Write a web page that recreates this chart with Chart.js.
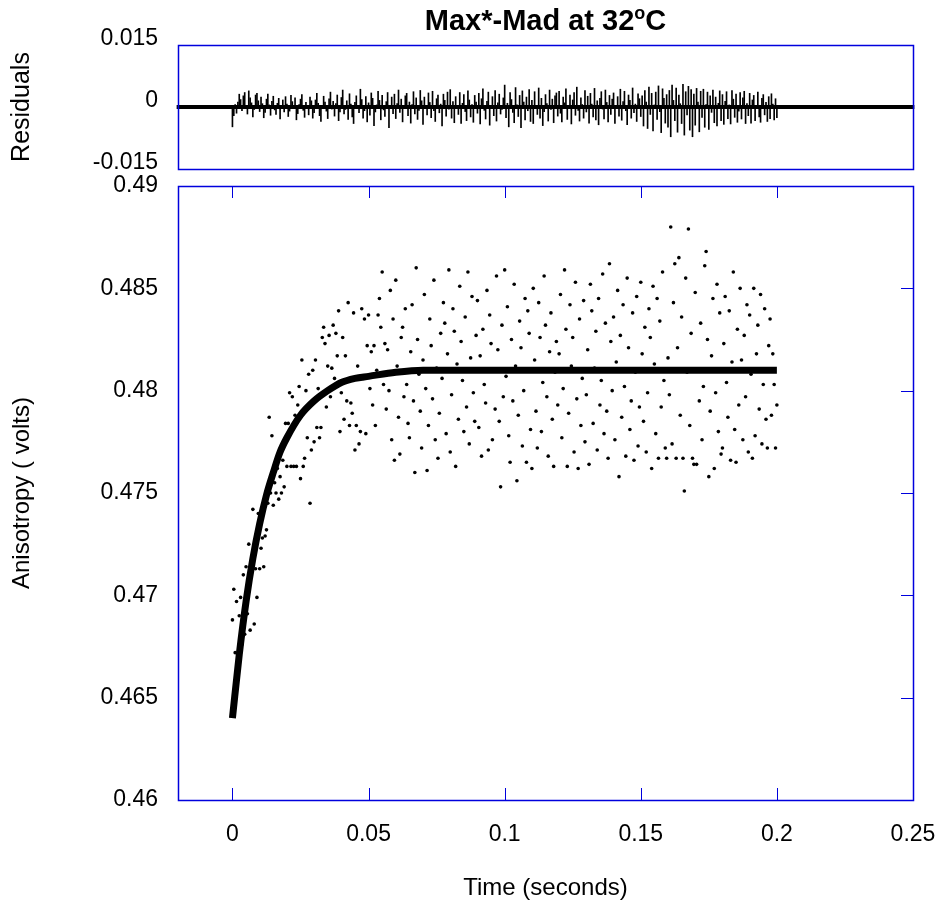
<!DOCTYPE html>
<html>
<head>
<meta charset="utf-8">
<script src="https://cdn.jsdelivr.net/npm/chart.js@4.4.1/dist/chart.umd.min.js"></script>
<style>
  html, body { margin: 0; padding: 0; background: #fff; }
  #wrap { position: relative; width: 940px; height: 909px; }
  canvas { position: absolute; left: 0; top: 0; }
</style>
</head>
<body>
<div id="wrap">
  <canvas id="resCanvas" width="940" height="909"></canvas>
  <canvas id="mainCanvas" width="940" height="909"></canvas>
</div>
<script>
// sample times (s)
const time = [
  0, 0.0005, 0.001, 0.0015, 0.002, 0.0025, 0.003, 0.0035, 0.004, 0.0045, 0.005, 0.0055, 0.006, 0.0065, 0.007, 0.0075, 0.008, 0.0085, 0.009, 0.0095,
  0.01, 0.0105, 0.011, 0.0115, 0.012, 0.0125, 0.013, 0.0135, 0.014, 0.0145, 0.015, 0.0155, 0.016, 0.0165, 0.017, 0.0175, 0.018, 0.0185, 0.019, 0.0195,
  0.02, 0.0205, 0.021, 0.0215, 0.022, 0.0225, 0.023, 0.0235, 0.024, 0.0245, 0.025, 0.0255, 0.026, 0.0265, 0.027, 0.0275, 0.028, 0.0285, 0.029, 0.0295,
  0.03, 0.0305, 0.031, 0.0315, 0.032, 0.0325, 0.033, 0.0335, 0.034, 0.0345, 0.035, 0.0355, 0.036, 0.0365, 0.037, 0.0375, 0.038, 0.0385, 0.039, 0.0395,
  0.04, 0.0405, 0.041, 0.0415, 0.042, 0.0425, 0.043, 0.0435, 0.044, 0.0445, 0.045, 0.0455, 0.046, 0.0465, 0.047, 0.0475, 0.048, 0.0485, 0.049, 0.0495,
  0.05, 0.0505, 0.051, 0.0515, 0.052, 0.0525, 0.053, 0.0535, 0.054, 0.0545, 0.055, 0.0555, 0.056, 0.0565, 0.057, 0.0575, 0.058, 0.0585, 0.059, 0.0595,
  0.06, 0.0605, 0.061, 0.0615, 0.062, 0.0625, 0.063, 0.0635, 0.064, 0.0645, 0.065, 0.0655, 0.066, 0.0665, 0.067, 0.0675, 0.068, 0.0685, 0.069, 0.0695,
  0.07, 0.0705, 0.071, 0.0715, 0.072, 0.0725, 0.073, 0.0735, 0.074, 0.0745, 0.075, 0.0755, 0.076, 0.0765, 0.077, 0.0775, 0.078, 0.0785, 0.079, 0.0795,
  0.08, 0.0805, 0.081, 0.0815, 0.082, 0.0825, 0.083, 0.0835, 0.084, 0.0845, 0.085, 0.0855, 0.086, 0.0865, 0.087, 0.0875, 0.088, 0.0885, 0.089, 0.0895,
  0.09, 0.0905, 0.091, 0.0915, 0.092, 0.0925, 0.093, 0.0935, 0.094, 0.0945, 0.095, 0.0955, 0.096, 0.0965, 0.097, 0.0975, 0.098, 0.0985, 0.099, 0.0995,
  0.1, 0.1005, 0.101, 0.1015, 0.102, 0.1025, 0.103, 0.1035, 0.104, 0.1045, 0.105, 0.1055, 0.106, 0.1065, 0.107, 0.1075, 0.108, 0.1085, 0.109, 0.1095,
  0.11, 0.1105, 0.111, 0.1115, 0.112, 0.1125, 0.113, 0.1135, 0.114, 0.1145, 0.115, 0.1155, 0.116, 0.1165, 0.117, 0.1175, 0.118, 0.1185, 0.119, 0.1195,
  0.12, 0.1205, 0.121, 0.1215, 0.122, 0.1225, 0.123, 0.1235, 0.124, 0.1245, 0.125, 0.1255, 0.126, 0.1265, 0.127, 0.1275, 0.128, 0.1285, 0.129, 0.1295,
  0.13, 0.1305, 0.131, 0.1315, 0.132, 0.1325, 0.133, 0.1335, 0.134, 0.1345, 0.135, 0.1355, 0.136, 0.1365, 0.137, 0.1375, 0.138, 0.1385, 0.139, 0.1395,
  0.14, 0.1405, 0.141, 0.1415, 0.142, 0.1425, 0.143, 0.1435, 0.144, 0.1445, 0.145, 0.1455, 0.146, 0.1465, 0.147, 0.1475, 0.148, 0.1485, 0.149, 0.1495,
  0.15, 0.1505, 0.151, 0.1515, 0.152, 0.1525, 0.153, 0.1535, 0.154, 0.1545, 0.155, 0.1555, 0.156, 0.1565, 0.157, 0.1575, 0.158, 0.1585, 0.159, 0.1595,
  0.16, 0.1605, 0.161, 0.1615, 0.162, 0.1625, 0.163, 0.1635, 0.164, 0.1645, 0.165, 0.1655, 0.166, 0.1665, 0.167, 0.1675, 0.168, 0.1685, 0.169, 0.1695,
  0.17, 0.1705, 0.171, 0.1715, 0.172, 0.1725, 0.173, 0.1735, 0.174, 0.1745, 0.175, 0.1755, 0.176, 0.1765, 0.177, 0.1775, 0.178, 0.1785, 0.179, 0.1795,
  0.18, 0.1805, 0.181, 0.1815, 0.182, 0.1825, 0.183, 0.1835, 0.184, 0.1845, 0.185, 0.1855, 0.186, 0.1865, 0.187, 0.1875, 0.188, 0.1885, 0.189, 0.1895,
  0.19, 0.1905, 0.191, 0.1915, 0.192, 0.1925, 0.193, 0.1935, 0.194, 0.1945, 0.195, 0.1955, 0.196, 0.1965, 0.197, 0.1975, 0.198, 0.1985, 0.199, 0.1995,
  0.2
];

// measured anisotropy (volts), one per sample time
const anisotropy = [
  0.4688, 0.4703, 0.4672, 0.4697, 0.4665, 0.4690, 0.4699, 0.4676, 0.4710, 0.4681, 0.4714, 0.4691, 0.4725, 0.4683, 0.4712, 0.4742, 0.4686, 0.4713, 0.4699, 0.4740,
  0.4713, 0.4723, 0.4728, 0.4714, 0.4729, 0.4732, 0.4745, 0.4787, 0.4750, 0.4778, 0.4744, 0.4755, 0.4750, 0.4762, 0.4747, 0.4758, 0.4750, 0.4766, 0.4753, 0.4784,
  0.4763, 0.4784, 0.4799, 0.4763, 0.4797, 0.4763, 0.4788, 0.4763, 0.4793, 0.4802, 0.4757, 0.4815, 0.4763, 0.4767, 0.4800, 0.4777, 0.4808, 0.4745, 0.4771, 0.4810,
  0.4775, 0.4815, 0.4782, 0.4801, 0.4777, 0.4782, 0.4826, 0.4831, 0.4823, 0.4792, 0.4812, 0.4827, 0.4797, 0.4811, 0.4832, 0.4806, 0.4828, 0.4817, 0.4839, 0.4780,
  0.4799, 0.4826, 0.4786, 0.4817, 0.4795, 0.4843, 0.4783, 0.4794, 0.4789, 0.4838, 0.4771, 0.4783, 0.4812, 0.4774, 0.4780, 0.4840, 0.4806, 0.4835, 0.4779, 0.4822,
  0.4837, 0.4801, 0.4819, 0.4793, 0.4822, 0.4783, 0.4810, 0.4837, 0.4845, 0.4831, 0.4858, 0.4803, 0.4823, 0.4791, 0.4820, 0.4800, 0.4849, 0.4776, 0.4835, 0.4766,
  0.4854, 0.4812, 0.4787, 0.4769, 0.4826, 0.4831, 0.4797, 0.4840, 0.4803, 0.4784, 0.4777, 0.4819, 0.4842, 0.4795, 0.4760, 0.4860, 0.4825, 0.4808, 0.4790, 0.4772,
  0.4815, 0.4847, 0.4801, 0.4761, 0.4783, 0.4835, 0.4822, 0.4796, 0.4854, 0.4776, 0.4811, 0.4767, 0.4789, 0.4828, 0.4806, 0.4843, 0.4833, 0.4779, 0.4818, 0.4859,
  0.4770, 0.4798, 0.4840, 0.4829, 0.4763, 0.4813, 0.4786, 0.4851, 0.4824, 0.4805, 0.4780, 0.4836, 0.4792, 0.4858, 0.4774, 0.4816, 0.4846, 0.4799, 0.4785, 0.4827,
  0.4844, 0.4782, 0.4817, 0.4768, 0.4830, 0.4803, 0.4794, 0.4849, 0.4771, 0.4837, 0.4823, 0.4776, 0.4810, 0.4791, 0.4856, 0.4820, 0.4785, 0.4753, 0.4832, 0.4797,
  0.4859, 0.4807, 0.4841, 0.4778, 0.4765, 0.4825, 0.4795, 0.4852, 0.4812, 0.4756, 0.4788, 0.4834, 0.4821, 0.4773, 0.4800, 0.4845, 0.4765, 0.4839, 0.4828, 0.4781,
  0.4762, 0.4850, 0.4815, 0.4790, 0.4772, 0.4843, 0.4826, 0.4780, 0.4804, 0.4856, 0.4832, 0.4797, 0.4768, 0.4819, 0.4838, 0.4786, 0.4763, 0.4809, 0.4824, 0.4793,
  0.4818, 0.4847, 0.4777, 0.4801, 0.4859, 0.4830, 0.4763, 0.4789, 0.4842, 0.4812, 0.4826, 0.4770, 0.4853, 0.4796, 0.4762, 0.4835, 0.4783, 0.4806, 0.4844, 0.4775,
  0.4798, 0.4820, 0.4764, 0.4852, 0.4839, 0.4784, 0.4811, 0.4829, 0.4771, 0.4845, 0.4793, 0.4805, 0.4857, 0.4779, 0.4833, 0.4790, 0.4767, 0.4862, 0.4824, 0.4800,
  0.4836, 0.4776, 0.4814, 0.4849, 0.4758, 0.4827, 0.4787, 0.4842, 0.4802, 0.4768, 0.4855, 0.4821, 0.4781, 0.4795, 0.4838, 0.4766, 0.4809, 0.4846, 0.4773, 0.4792,
  0.4853, 0.4818, 0.4785, 0.4831, 0.4770, 0.4799, 0.4840, 0.4826, 0.4762, 0.4851, 0.4813, 0.4779, 0.4845, 0.4767, 0.4834, 0.4792, 0.4858, 0.4805, 0.4772, 0.4767,
  0.4816, 0.4798, 0.4880, 0.4774, 0.4843, 0.4862, 0.4767, 0.4821, 0.4865, 0.4788, 0.4836, 0.4767, 0.4751, 0.4855, 0.4809, 0.4879, 0.4783, 0.4828, 0.4767, 0.4764,
  0.4848, 0.4764, 0.4810, 0.4795, 0.4833, 0.4776, 0.4802, 0.4861, 0.4868, 0.4825, 0.4758, 0.4790, 0.4817, 0.4845, 0.4762, 0.4799, 0.4852, 0.4780, 0.4838, 0.4769,
  0.4772, 0.4823, 0.4846, 0.4804, 0.4787, 0.4839, 0.4766, 0.4814, 0.4858, 0.4781, 0.4765, 0.4830, 0.4793, 0.4850, 0.4815, 0.4776, 0.4827, 0.4797, 0.4842, 0.4770,
  0.4837, 0.4808, 0.4767, 0.4850, 0.4778, 0.4818, 0.4832, 0.4791, 0.4847, 0.4774, 0.4803, 0.4840, 0.4786, 0.4772, 0.4822, 0.4835, 0.4788, 0.4818, 0.4803, 0.4772,
  0.4793
];

// residuals of the fit, one per sample time
const residual = [
  -0.0048, -0.0021, 0.0006, -0.0015, 0.0012, 0.0031, 0.0018, -0.0009, 0.0027, 0.0035, 0.0004, -0.0017, 0.0039, 0.0022, 0.0010, -0.0024, -0.0006, 0.0029, 0.0033, 0.0015,
  -0.0011, 0.0024, 0.0008, -0.0026, -0.0013, 0.0019, 0.0031, 0.0005, -0.0020, 0.0014, 0.0026, -0.0007, -0.0018, 0.0009, 0.0021, -0.0029, 0.0003, 0.0017, -0.0012, 0.0025,
  0.0007, -0.0023, -0.0010, 0.0028, 0.0013, -0.0004, 0.0022, -0.0031, -0.0016, 0.0006, 0.0019, 0.0030, -0.0008, -0.0025, 0.0011, 0.0002, -0.0019, 0.0024, 0.0015, -0.0027,
  -0.0014, 0.0017, 0.0033, 0.0009, -0.0021, -0.0035, 0.0004, 0.0026, 0.0012, -0.0010, -0.0028, 0.0020, 0.0036, -0.0005, 0.0014, -0.0022, 0.0008, 0.0029, -0.0033, -0.0012,
  0.0023, 0.0041, -0.0017, -0.0006, 0.0015, -0.0030, 0.0032, 0.0007, -0.0024, -0.0040, 0.0011, 0.0027, 0.0003, -0.0014, 0.0043, 0.0018, -0.0027, -0.0009, 0.0025, -0.0036,
  0.0010, -0.0020, 0.0034, 0.0021, -0.0045, -0.0012, 0.0005, 0.0038, 0.0016, -0.0031, 0.0028, -0.0007, -0.0023, 0.0013, 0.0035, -0.0050, 0.0002, 0.0024, -0.0016, 0.0031,
  -0.0028, 0.0008, 0.0041, -0.0013, 0.0019, -0.0036, -0.0004, 0.0027, 0.0033, -0.0021, 0.0012, -0.0039, 0.0006, 0.0037, -0.0017, 0.0022, -0.0030, -0.0008, 0.0040, 0.0015,
  -0.0042, 0.0024, 0.0003, -0.0019, 0.0034, 0.0011, -0.0026, 0.0038, -0.0009, -0.0035, 0.0020, 0.0029, -0.0014, 0.0007, -0.0046, 0.0031, 0.0016, -0.0022, 0.0036, -0.0005,
  0.0042, -0.0027, 0.0013, -0.0038, 0.0025, 0.0004, -0.0018, 0.0035, -0.0040, 0.0009, 0.0030, -0.0011, -0.0033, 0.0039, 0.0017, -0.0024, 0.0006, -0.0037, 0.0028, 0.0012,
  -0.0015, 0.0033, -0.0041, 0.0020, 0.0044, -0.0008, -0.0029, 0.0014, 0.0036, -0.0044, 0.0002, 0.0025, -0.0021, 0.0040, -0.0034, 0.0010, 0.0031, -0.0017, -0.0006, 0.0022,
  0.0053, -0.0026, 0.0009, -0.0048, 0.0035, 0.0018, -0.0013, -0.0038, 0.0047, 0.0005, -0.0023, 0.0028, -0.0050, 0.0039, 0.0012, -0.0031, 0.0024, -0.0009, 0.0042, -0.0035,
  0.0016, -0.0040, 0.0037, 0.0003, -0.0018, 0.0046, -0.0027, 0.0021, -0.0045, -0.0011, 0.0030, 0.0008, -0.0034, 0.0041, -0.0006, 0.0019, -0.0038, 0.0027, 0.0034, -0.0022,
  0.0038, -0.0015, -0.0036, 0.0024, 0.0010, 0.0044, -0.0030, -0.0004, 0.0029, -0.0041, 0.0017, 0.0035, -0.0020, 0.0048, -0.0008, -0.0034, 0.0022, 0.0006, -0.0027, 0.0040,
  -0.0012, 0.0026, -0.0039, 0.0033, 0.0007, -0.0024, 0.0045, -0.0031, 0.0015, -0.0043, 0.0021, 0.0037, -0.0005, -0.0029, 0.0041, 0.0011, -0.0036, 0.0028, -0.0018, 0.0019,
  0.0034, -0.0040, 0.0004, 0.0025, -0.0022, 0.0043, -0.0032, 0.0013, 0.0038, -0.0009, -0.0043, 0.0029, 0.0016, -0.0027, 0.0046, -0.0014, 0.0007, -0.0035, 0.0032, 0.0020,
  -0.0023, 0.0027, -0.0046, 0.0040, 0.0012, -0.0052, 0.0048, -0.0018, 0.0033, -0.0058, 0.0005, 0.0036, -0.0030, 0.0051, -0.0011, -0.0062, 0.0044, 0.0021, -0.0039, 0.0030,
  -0.0049, 0.0040, -0.0072, 0.0053, 0.0016, -0.0033, 0.0046, -0.0061, 0.0029, 0.0008, -0.0040, 0.0055, -0.0068, 0.0037, -0.0019, 0.0050, -0.0056, 0.0042, -0.0072, 0.0031,
  -0.0044, 0.0045, 0.0012, -0.0060, 0.0038, -0.0025, 0.0043, -0.0049, 0.0006, 0.0036, -0.0054, 0.0027, -0.0013, 0.0041, -0.0038, 0.0024, -0.0046, 0.0009, 0.0039, -0.0033,
  0.0030, -0.0042, 0.0014, 0.0037, -0.0028, 0.0005, -0.0041, 0.0040, 0.0019, -0.0025, 0.0031, -0.0037, -0.0010, 0.0035, -0.0029, 0.0022, 0.0038, -0.0040, 0.0008, -0.0021,
  0.0033, -0.0039, 0.0017, 0.0028, -0.0033, 0.0004, 0.0036, -0.0024, -0.0037, 0.0021, 0.0030, -0.0019, 0.0011, -0.0035, 0.0025, -0.0028, 0.0032, 0.0007, -0.0031, 0.0020,
  -0.0026
];

// fitted curve
const fitTime  = [0, 0.0025, 0.005, 0.0075, 0.01, 0.0125, 0.015, 0.0175, 0.02, 0.025, 0.03, 0.035, 0.04, 0.045, 0.05, 0.06, 0.07, 0.08, 0.1, 0.12, 0.15, 0.2];
const fitValue = [0.4640, 0.4671, 0.4697, 0.4718, 0.4735, 0.4749, 0.4760, 0.4770, 0.4777, 0.4788, 0.4795, 0.4800, 0.4804, 0.4806, 0.4807, 0.4809, 0.4810, 0.4810, 0.4810, 0.4810, 0.4810, 0.4810];

// zero line of the residual panel
const zeroLineTime = [-0.0205, 0.2505];

// axes
const xRange = [-0.02, 0.25];
const xTicks = [0, 0.05, 0.1, 0.15, 0.2, 0.25];
const yRange = [0.46, 0.49];
const yTicks = [0.46, 0.465, 0.47, 0.475, 0.48, 0.485, 0.49];
const resRange = [-0.015, 0.015];
const resTicks = [-0.015, 0, 0.015];

const FONT = "'Liberation Sans', Arial, Helvetica, sans-serif";
const BLUE = "#0000dd";

const toPts = (xs, ys) => xs.map((v, i) => ({ x: v, y: ys[i] }));

// blue box round the plot area, with inward tick marks
const frame = {
  id: "frame",
  afterDraw(chart, args, opts) {
    const { ctx, chartArea: a, scales } = chart;
    ctx.save();
    ctx.strokeStyle = BLUE;
    ctx.lineWidth = 1;
    ctx.beginPath();
    if (opts.ticks) {
      scales.x.ticks.forEach((t) => {
        const px = Math.round(scales.x.getPixelForValue(t.value)) + 0.5;
        ctx.moveTo(px, a.bottom);
        ctx.lineTo(px, a.bottom - 12);
        ctx.moveTo(px, a.top);
        ctx.lineTo(px, a.top + 12);
      });
      scales.y.ticks.forEach((t) => {
        const py = Math.round(scales.y.getPixelForValue(t.value)) + 0.5;
        ctx.moveTo(a.right, py);
        ctx.lineTo(a.right - 12, py);
      });
    }
    ctx.stroke();
    ctx.lineWidth = 1.5;
    ctx.strokeRect(Math.round(a.left) + 0.5, Math.round(a.top) + 0.5,
      Math.round(a.right - a.left), Math.round(a.bottom - a.top));
    ctx.restore();
  },
};

// title with a raised "o"
const titleText = {
  id: "titleText",
  afterDraw(chart) {
    const { ctx, chartArea: a } = chart;
    const big = "bold 29px " + FONT;
    const small = "bold 18px " + FONT;
    const p1 = "Max*-Mad at 32", p2 = "o", p3 = "C";
    ctx.save();
    ctx.fillStyle = "#000";
    ctx.textBaseline = "alphabetic";
    ctx.font = big;
    const w1 = ctx.measureText(p1).width, w3 = ctx.measureText(p3).width;
    ctx.font = small;
    const w2 = ctx.measureText(p2).width;
    let x = (a.left + a.right) / 2 - (w1 + w2 + w3) / 2;
    const base = 30;
    ctx.font = big;
    ctx.fillText(p1, x, base);
    x += w1;
    ctx.font = small;
    ctx.fillText(p2, x, base - 11);
    x += w2;
    ctx.font = big;
    ctx.fillText(p3, x, base);
    ctx.restore();
  },
};

const setTicks = (list) => (scale) => {
  scale.ticks = list.map((v) => ({ value: v }));
};

// residual panel
new Chart(document.getElementById("resCanvas"), {
  data: {
    datasets: [
      {
        type: "line",
        data: toPts(zeroLineTime, [0, 0]),
        borderColor: "#000",
        borderWidth: 4,
        pointRadius: 0,
        clip: false,
        order: 0,
      },
      {
        type: "bar",
        data: toPts(time, residual),
        backgroundColor: "#000",
        barThickness: 1,
        order: 1,
      },
    ],
  },
  options: {
    responsive: false,
    animation: false,
    layout: { padding: { top: 45, right: 27, bottom: 740, left: 0 } },
    plugins: { legend: { display: false }, tooltip: { enabled: false }, frame: { ticks: false } },
    scales: {
      x: { type: "linear", display: false, min: xRange[0], max: xRange[1], offset: false },
      y: {
        min: resRange[0],
        max: resRange[1],
        afterBuildTicks: setTicks(resTicks),
        afterFit: (s) => { s.width = 178; },
        grid: { display: false, drawTicks: true, tickLength: 20, tickColor: "rgba(0,0,0,0)" },
        border: { display: false },
        ticks: {
          color: "#000",
          padding: 0,
          labelOffset: -6,
          font: { family: FONT, size: 23 },
          callback: (v) => String(v),
        },
        title: {
          display: true,
          text: "Residuals",
          color: "#000",
          padding: { top: 7, bottom: 0 },
          font: { family: FONT, size: 25 },
        },
      },
    },
  },
  plugins: [frame, titleText],
});

// main panel
new Chart(document.getElementById("mainCanvas"), {
  data: {
    datasets: [
      {
        type: "line",
        data: toPts(fitTime, fitValue),
        borderColor: "#000",
        borderWidth: 7,
        pointRadius: 0,
        cubicInterpolationMode: "monotone",
        order: 0,
      },
      {
        type: "scatter",
        data: toPts(time, anisotropy),
        backgroundColor: "#000",
        borderWidth: 0,
        pointRadius: 1.8,
        order: 1,
      },
    ],
  },
  options: {
    responsive: false,
    animation: false,
    layout: { padding: { top: 186, right: 27, bottom: 0, left: 0 } },
    plugins: { legend: { display: false }, tooltip: { enabled: false }, frame: { ticks: true } },
    scales: {
      x: {
        type: "linear",
        min: xRange[0],
        max: xRange[1],
        afterBuildTicks: setTicks(xTicks),
        afterFit: (s) => { s.height = 109; },
        grid: { display: false, drawTicks: true, tickLength: 21, tickColor: "rgba(0,0,0,0)" },
        border: { display: false },
        ticks: {
          color: "#000",
          padding: 0,
          maxRotation: 0,
          font: { family: FONT, size: 23 },
          callback: (v) => String(v),
        },
        title: {
          display: true,
          text: "Time (seconds)",
          color: "#000",
          padding: { top: 0, bottom: 6 },
          font: { family: FONT, size: 24 },
        },
      },
      y: {
        type: "linear",
        min: yRange[0],
        max: yRange[1],
        afterBuildTicks: setTicks(yTicks),
        afterFit: (s) => { s.width = 178; },
        grid: { display: false, drawTicks: true, tickLength: 20, tickColor: "rgba(0,0,0,0)" },
        border: { display: false },
        ticks: {
          color: "#000",
          padding: 0,
          font: { family: FONT, size: 23 },
          callback: (v) => String(v),
        },
        title: {
          display: true,
          text: "Anisotropy ( volts)",
          color: "#000",
          padding: { top: 8, bottom: 0 },
          font: { family: FONT, size: 24 },
        },
      },
    },
  },
  plugins: [frame],
});
</script>
</body>
</html>
